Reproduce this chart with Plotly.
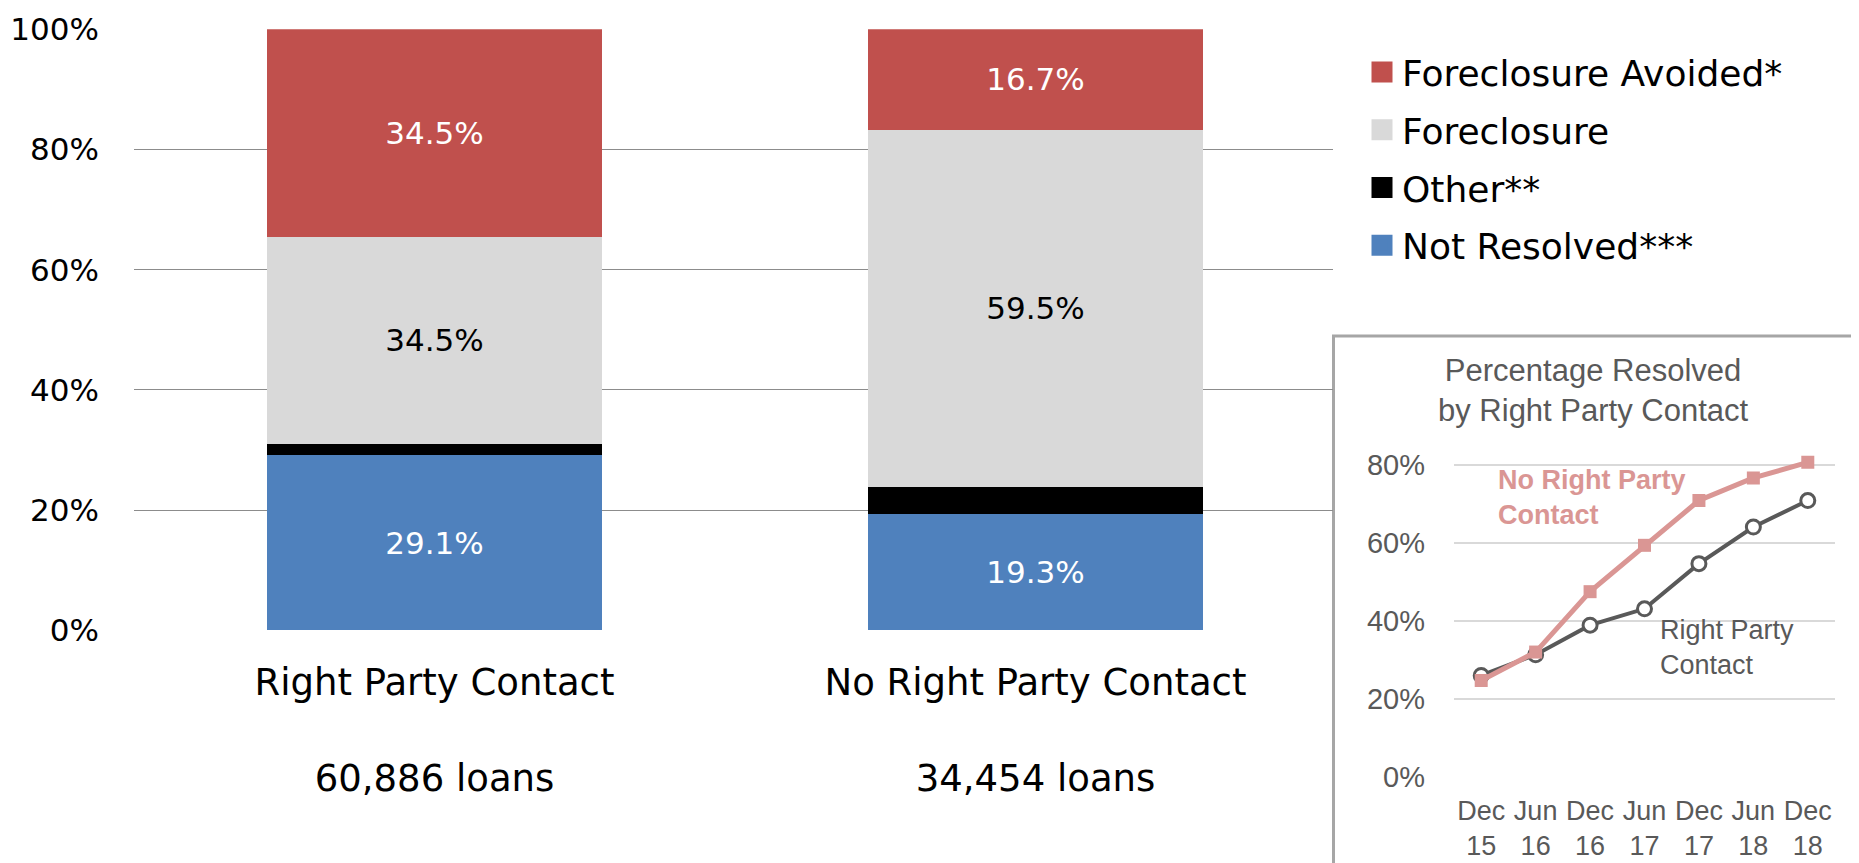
import plotly.graph_objects as go

# ---------------- data ----------------
categories = ["Right Party Contact", "No Right Party Contact"]
loan_counts = ["60,886 loans", "34,454 loans"]

not_resolved = [29.1, 19.3]
other = [1.9, 4.5]
foreclosure = [34.5, 59.5]
foreclosure_avoided = [34.5, 16.7]

series_names = ["Foreclosure Avoided*", "Foreclosure", "Other**", "Not Resolved***"]
series_colors = ["#C0504D", "#D9D9D9", "#000000", "#4F81BD"]

y_ticks = [0, 20, 40, 60, 80, 100]

inset_title = "Percentage Resolved<br>by Right Party Contact"
inset_periods = ["Dec<br>15", "Jun<br>16", "Dec<br>16", "Jun<br>17",
                 "Dec<br>17", "Jun<br>18", "Dec<br>18"]
rpc_resolved = [26.0, 31.3, 38.9, 43.1, 54.7, 64.1, 70.9]
no_rpc_resolved = [24.7, 32.0, 47.5, 59.4, 70.9, 76.7, 80.7]
inset_y_ticks = [0, 20, 40, 60, 80]

# ---------------- layout helpers ----------------
W, H = 1859, 863
OX, OY = 8, 8  # page offset of the plot div
MAIN_FONT = "DejaVu Sans"
INSET_FONT = "Liberation Sans, Arial"


def px(x):
    return (x - OX) / W


def py(y):
    return 1 - (y - OY) / H


fig = go.Figure()

# stacked bars (bottom to top)
stack = [
    (series_names[3], not_resolved, series_colors[3], "white", True),
    (series_names[2], other, series_colors[2], "white", False),
    (series_names[1], foreclosure, series_colors[1], "black", True),
    (series_names[0], foreclosure_avoided, series_colors[0], "white", True),
]
for name, vals, col, tcol, show_text in stack:
    fig.add_trace(go.Bar(
        x=categories, y=vals, name=name,
        marker=dict(color=col, line=dict(width=0)),
        width=0.556,
        text=[f"{v:.1f}%" for v in vals] if show_text else None,
        textposition="inside" if show_text else "none",
        insidetextanchor="middle",
        textangle=0,
        textfont=dict(family=MAIN_FONT, size=31, color=tcol),
        showlegend=False, hoverinfo="skip",
        xaxis="x", yaxis="y",
    ))

# legend entries (larger square swatches)
for name, col in zip(series_names, series_colors):
    fig.add_trace(go.Scatter(
        x=[None], y=[None], mode="markers", name=name,
        marker=dict(symbol="square", size=16, color=col,
                    line=dict(color=col, width=5)),
        legendgroup=name, showlegend=True,
        xaxis="x", yaxis="y",
    ))

# inset lines
fig.add_trace(go.Scatter(
    x=inset_periods, y=rpc_resolved, mode="lines+markers",
    name="Right Party Contact",
    line=dict(color="#595959", width=4),
    marker=dict(symbol="circle", size=14, color="white",
                line=dict(color="#595959", width=3)),
    showlegend=False, xaxis="x2", yaxis="y2",
))
fig.add_trace(go.Scatter(
    x=inset_periods, y=no_rpc_resolved, mode="lines+markers",
    name="No Right Party Contact",
    line=dict(color="#DA9694", width=5),
    marker=dict(symbol="square", size=13, color="#DA9694"),
    showlegend=False, xaxis="x2", yaxis="y2",
))

fig.update_layout(
    width=W, height=H,
    margin=dict(l=0, r=0, t=0, b=0),
    paper_bgcolor="white", plot_bgcolor="rgba(0,0,0,0)",
    barmode="stack",
    font=dict(family=MAIN_FONT, color="black"),
    showlegend=True,
    legend=dict(
        x=px(1362), y=py(42), xanchor="left", yanchor="top",
        font=dict(family=MAIN_FONT, size=36, color="black"),
        bgcolor="rgba(0,0,0,0)", borderwidth=0,
        traceorder="grouped", tracegroupgap=8,
        itemclick=False, itemdoubleclick=False,
    ),
    xaxis=dict(
        domain=[px(134), px(1333)], range=[-0.5, 1.495],
        type="category",
        tickmode="array",
        tickvals=categories,
        ticktext=[f"{c}<br><br>{n}" for c, n in zip(categories, loan_counts)],
        tickfont=dict(family=MAIN_FONT, size=37, color="black"),
        showgrid=False, zeroline=False, showline=False, ticks="",
        ticklabelstandoff=27,
        anchor="y", automargin=False, fixedrange=True,
    ),
    yaxis=dict(
        domain=[py(630.2), py(29.3)], range=[0, 100],
        tickmode="array",
        tickvals=y_ticks, ticktext=[f"{v}%" for v in y_ticks],
        tickfont=dict(family=MAIN_FONT, size=31, color="black"),
        showgrid=True, gridcolor="#8C8C8C", gridwidth=1.3,
        zeroline=False, showline=False, ticks="",
        ticklabelstandoff=34,
        anchor="x", automargin=False, fixedrange=True,
    ),
    xaxis2=dict(
        domain=[px(1454), px(1835)], range=[-0.5, 6.5],
        type="category",
        tickfont=dict(family=INSET_FONT, size=27, color="#595959"),
        showgrid=False, zeroline=False, showline=False, ticks="",
        ticklabelstandoff=15,
        anchor="y2", automargin=False, fixedrange=True,
    ),
    yaxis2=dict(
        domain=[py(776.7), py(445.6)], range=[0, 85],
        tickmode="array",
        tickvals=inset_y_ticks, ticktext=[f"{v}%" for v in inset_y_ticks],
        tickfont=dict(family=INSET_FONT, size=29, color="#595959"),
        showgrid=True, gridcolor="#D9D9D9", gridwidth=1.5,
        zeroline=False, showline=False, ticks="",
        ticklabelstandoff=28,
        anchor="x2", automargin=False, fixedrange=True,
    ),
    shapes=[dict(
        type="rect", xref="paper", yref="paper",
        x0=px(1333.5), x1=px(1854.5), y0=-0.1, y1=py(336),
        line=dict(color="#A6A6A6", width=3), fillcolor="white",
        layer="below",
    )],
    annotations=[
        dict(text=inset_title, xref="paper", yref="paper",
             x=px(1593), y=py(390), xanchor="center", yanchor="middle",
             showarrow=False, align="center",
             font=dict(family=INSET_FONT, size=31, color="#595959")),
        dict(text="<b>No Right Party<br>Contact</b>", xref="paper", yref="paper",
             x=px(1496), y=py(497), xanchor="left", yanchor="middle",
             showarrow=False, align="left",
             font=dict(family=INSET_FONT, size=27, color="#DA9694")),
        dict(text="Right Party<br>Contact", xref="paper", yref="paper",
             x=px(1658), y=py(647), xanchor="left", yanchor="middle",
             showarrow=False, align="left",
             font=dict(family=INSET_FONT, size=27, color="#595959")),
    ],
)

fig.write_html("out.html")
